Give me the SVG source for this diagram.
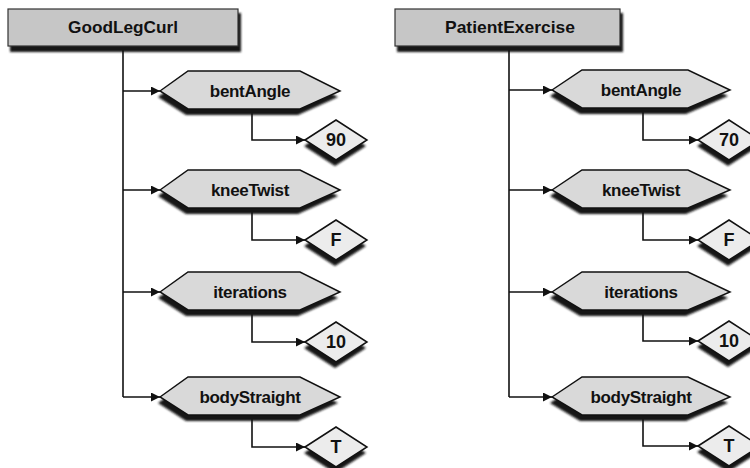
<svg xmlns="http://www.w3.org/2000/svg" width="750" height="468" viewBox="0 0 750 468">
<style>
.bg{fill:#ffffff}
.title{fill:#c6c6c6;stroke:#333;stroke-width:1.2}
.hex{fill:#d9d9d9;stroke:#111;stroke-width:1.5}
.dia{fill:#ececec;stroke:#111;stroke-width:1.5}
.sh{fill:#141414;filter:url(#blur)}
.t{font-family:"Liberation Sans",Arial,sans-serif;font-weight:bold;fill:#111;text-anchor:middle;dominant-baseline:central}
.tt{font-size:17px}
.tl{font-size:17px;letter-spacing:-0.3px}
.tv{font-size:18px}
.ln{fill:none;stroke:#111;stroke-width:1.6}
</style>
<defs>
<filter id="blur" x="-10%" y="-20%" width="120%" height="150%"><feGaussianBlur stdDeviation="1.3"/></filter>
<marker id="arr" viewBox="0 0 10 10" refX="10" refY="5" markerWidth="10" markerHeight="9" markerUnits="userSpaceOnUse" orient="auto"><path d="M0,0 L10,5 L0,10 Z" fill="#111"/></marker>
<polygon id="hexL" points="-90,0 -62,-20 50,-20 90,0 50,18 -62,18"/>
<polygon id="hexR" points="-89,0 -59,-20 47,-20 89,0 47,18 -59,18"/>
<polygon id="diaS" points="0,0 31,-20 62,0 31,20"/>
</defs>
<rect class="bg" x="0" y="0" width="750" height="468"/>

<g id="connectors">
  <path class="ln" d="M123,47 V397"/>
  <path class="ln" d="M123,91 H160" marker-end="url(#arr)"/>
  <path class="ln" d="M123,190 H160" marker-end="url(#arr)"/>
  <path class="ln" d="M123,292 H160" marker-end="url(#arr)"/>
  <path class="ln" d="M123,397 H160" marker-end="url(#arr)"/>
  <path class="ln" d="M252,111 V140 H305" marker-end="url(#arr)"/>
  <path class="ln" d="M252,210 V240 H305" marker-end="url(#arr)"/>
  <path class="ln" d="M252,312 V342 H305" marker-end="url(#arr)"/>
  <path class="ln" d="M252,417 V447 H305" marker-end="url(#arr)"/>

  <path class="ln" d="M509,47 V397"/>
  <path class="ln" d="M509,90 H552" marker-end="url(#arr)"/>
  <path class="ln" d="M509,190 H552" marker-end="url(#arr)"/>
  <path class="ln" d="M509,292 H552" marker-end="url(#arr)"/>
  <path class="ln" d="M509,397 H552" marker-end="url(#arr)"/>
  <path class="ln" d="M643,110 V140 H698" marker-end="url(#arr)"/>
  <path class="ln" d="M643,210 V240 H698" marker-end="url(#arr)"/>
  <path class="ln" d="M643,312 V341 H698" marker-end="url(#arr)"/>
  <path class="ln" d="M643,417 V446 H698" marker-end="url(#arr)"/>
</g>

<g id="GoodLegCurl">
  <rect class="sh" x="10" y="13" width="231" height="39"/>
  <rect class="title" x="8" y="9" width="230" height="37"/>
  <text class="t tt" x="123" y="27" textLength="110" lengthAdjust="spacingAndGlyphs">GoodLegCurl</text>
</g>
<g id="PatientExercise">
  <rect class="sh" x="397" y="13" width="226" height="39"/>
  <rect class="title" x="395" y="9" width="225" height="37"/>
  <text class="t tt" x="510" y="27" textLength="130" lengthAdjust="spacingAndGlyphs">PatientExercise</text>
</g>

<g id="L_bentAngle" transform="translate(250,91)">
  <use href="#hexL" class="sh" x="-2" y="6"/><use href="#hexL" class="hex"/>
  <text class="t tl" x="0" y="0">bentAngle</text>
</g>
<g id="L_kneeTwist" transform="translate(250,190)">
  <use href="#hexL" class="sh" x="-2" y="6"/><use href="#hexL" class="hex"/>
  <text class="t tl" x="0" y="0">kneeTwist</text>
</g>
<g id="L_iterations" transform="translate(250,292)">
  <use href="#hexL" class="sh" x="-2" y="6"/><use href="#hexL" class="hex"/>
  <text class="t tl" x="0" y="0">iterations</text>
</g>
<g id="L_bodyStraight" transform="translate(250,397)">
  <use href="#hexL" class="sh" x="-2" y="6"/><use href="#hexL" class="hex"/>
  <text class="t tl" x="0" y="0">bodyStraight</text>
</g>

<g id="L_v90" transform="translate(305,140)">
  <use href="#diaS" class="sh" x="-1" y="6"/><use href="#diaS" class="dia"/>
  <text class="t tv" x="31" y="0">90</text>
</g>
<g id="L_vF" transform="translate(305,240)">
  <use href="#diaS" class="sh" x="-1" y="6"/><use href="#diaS" class="dia"/>
  <text class="t tv" x="31" y="0">F</text>
</g>
<g id="L_v10" transform="translate(305,342)">
  <use href="#diaS" class="sh" x="-1" y="6"/><use href="#diaS" class="dia"/>
  <text class="t tv" x="31" y="0">10</text>
</g>
<g id="L_vT" transform="translate(305,447)">
  <use href="#diaS" class="sh" x="-1" y="6"/><use href="#diaS" class="dia"/>
  <text class="t tv" x="31" y="0">T</text>
</g>

<g id="R_bentAngle" transform="translate(641,90)">
  <use href="#hexR" class="sh" x="-2" y="6"/><use href="#hexR" class="hex"/>
  <text class="t tl" x="0" y="0">bentAngle</text>
</g>
<g id="R_kneeTwist" transform="translate(641,190)">
  <use href="#hexR" class="sh" x="-2" y="6"/><use href="#hexR" class="hex"/>
  <text class="t tl" x="0" y="0">kneeTwist</text>
</g>
<g id="R_iterations" transform="translate(641,292)">
  <use href="#hexR" class="sh" x="-2" y="6"/><use href="#hexR" class="hex"/>
  <text class="t tl" x="0" y="0">iterations</text>
</g>
<g id="R_bodyStraight" transform="translate(641,397)">
  <use href="#hexR" class="sh" x="-2" y="6"/><use href="#hexR" class="hex"/>
  <text class="t tl" x="0" y="0">bodyStraight</text>
</g>

<g id="R_v70" transform="translate(698,140)">
  <use href="#diaS" class="sh" x="-1" y="6"/><use href="#diaS" class="dia"/>
  <text class="t tv" x="31" y="0">70</text>
</g>
<g id="R_vF" transform="translate(698,240)">
  <use href="#diaS" class="sh" x="-1" y="6"/><use href="#diaS" class="dia"/>
  <text class="t tv" x="31" y="0">F</text>
</g>
<g id="R_v10" transform="translate(698,341)">
  <use href="#diaS" class="sh" x="-1" y="6"/><use href="#diaS" class="dia"/>
  <text class="t tv" x="31" y="0">10</text>
</g>
<g id="R_vT" transform="translate(698,446)">
  <use href="#diaS" class="sh" x="-1" y="6"/><use href="#diaS" class="dia"/>
  <text class="t tv" x="31" y="0">T</text>
</g>
</svg>
